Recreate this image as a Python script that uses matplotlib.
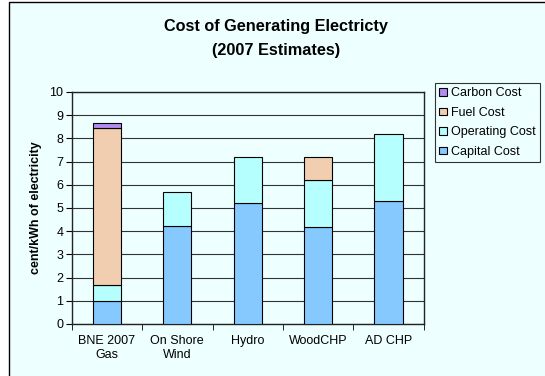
import numpy as np
import matplotlib.pyplot as plt
from matplotlib.patches import Rectangle, Patch

# Data (cent/kWh)
categories = ["BNE 2007\nGas", "On Shore\nWind", "Hydro", "WoodCHP", "AD CHP"]
capital_cost = [1.0, 4.22, 5.2, 4.2, 5.3]
operating_cost = [0.67, 1.48, 2.0, 2.0, 2.9]
fuel_cost = [6.76, 0.0, 0.0, 1.0, 0.0]
carbon_cost = [0.22, 0.0, 0.0, 0.0, 0.0]

series = [
    ("Capital Cost", capital_cost, "#85C9FF"),
    ("Operating Cost", operating_cost, "#B5FFFF"),
    ("Fuel Cost", fuel_cost, "#F2CEB0"),
    ("Carbon Cost", carbon_cost, "#B28CF0"),
]

bg = "#EEFFFF"
plt.rcParams['font.family'] = ['Liberation Sans', 'DejaVu Sans']

fig = plt.figure(figsize=(5.45, 3.76), dpi=100)
fig.patch.set_facecolor("white")
# Outer chart frame
fig.patches.append(Rectangle((9 / 545, -0.01), 1.02, 1 - 2 / 376 + 0.01,
                             transform=fig.transFigure, facecolor=bg,
                             edgecolor="black", linewidth=1.0, zorder=-10))

ax = fig.add_axes([71.7 / 545, 1 - 324 / 376, 352 / 545, 232 / 376])
ax.set_facecolor(bg)

x = np.arange(len(categories))
bottom = np.zeros(len(categories))
handles = []
for name, vals, col in series:
    vals = np.array(vals)
    mask = vals > 0
    ax.bar(x[mask], vals[mask], width=0.4, bottom=bottom[mask], color=col,
           edgecolor="black", linewidth=0.8, zorder=3)
    bottom += vals
    handles.append(Patch(facecolor=col, edgecolor="black", linewidth=0.8, label=name))

ax.set_xlim(-0.5, len(categories) - 0.5)
ax.set_ylim(0, 10)
ax.set_yticks(range(0, 11))
ax.yaxis.grid(True, color="#333333", linewidth=0.8, zorder=1)
ax.set_axisbelow(True)

ax.set_xticks(x)
ax.set_xticklabels(categories, fontsize=9)
ax.set_xticks(np.arange(-0.5, len(categories)), minor=True)
ax.tick_params(axis="x", which="major", length=0, pad=8)
ax.tick_params(axis="x", which="minor", length=4, direction="out", color="black")
ax.tick_params(axis="y", length=4, direction="out", labelsize=9, pad=2)

for s in ax.spines.values():
    s.set_color("#222222")
    s.set_linewidth(1.0)

ax.set_ylabel("cent/kWh of electricity", fontsize=9, fontweight="bold", labelpad=5)

fig.text(276 / 545, 1 - 27 / 376, "Cost of Generating Electricty",
         ha="center", va="center", fontsize=11.7, fontweight="bold")
fig.text(276 / 545, 1 - 51 / 376, "(2007 Estimates)",
         ha="center", va="center", fontsize=11.7, fontweight="bold")

leg = fig.legend(handles=handles[::-1], loc="upper left",
                 bbox_to_anchor=(435 / 545, 1 - 83 / 376), fontsize=9,
                 frameon=True, fancybox=False, handlelength=0.6, handleheight=0.6,
                 handletextpad=0.3, labelspacing=0.6, borderpad=0.35,
                 borderaxespad=0)
leg.get_frame().set_edgecolor("black")
leg.get_frame().set_facecolor(bg)
leg.get_frame().set_linewidth(0.8)

fig.savefig("out.png", dpi=100, facecolor=fig.get_facecolor())
